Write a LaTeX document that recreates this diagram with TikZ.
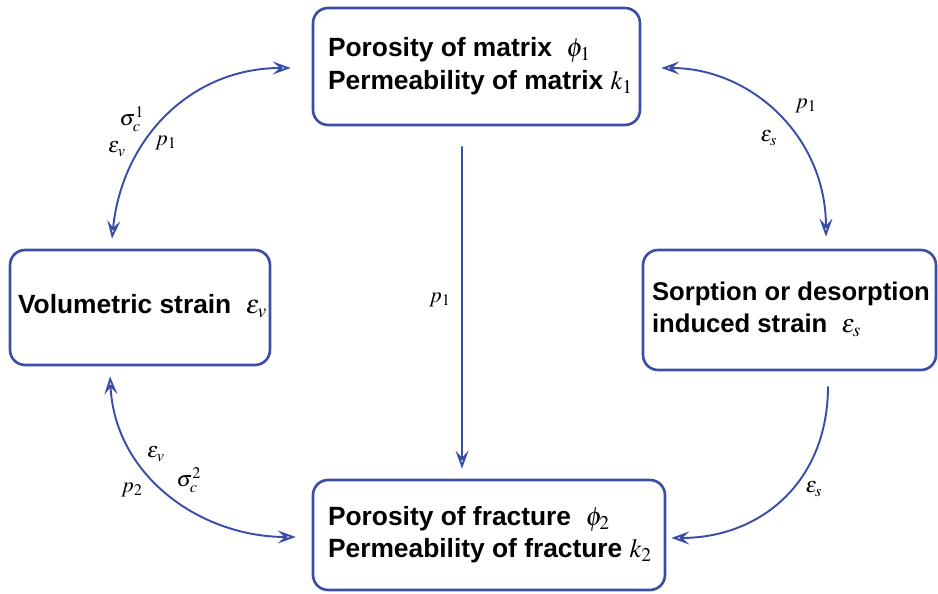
\documentclass[tikz,border=0pt]{standalone}
\usepackage{mathptmx}
\usepackage{fontspec}
\setmainfont{Liberation Sans}
\usetikzlibrary{arrows.meta,calc}
\definecolor{linkblue}{RGB}{58,78,168}
\newcommand{\boxlines}[2]{\makebox[#1][l]{\begin{tabular}{@{}l@{}}#2\end{tabular}}}
\tikzset{
  statebox/.style={draw=linkblue, line width=1.5pt, rounded corners=0.3cm,
    font=\fontsize{15}{18.5}\selectfont\bfseries, anchor=center, inner sep=0pt},
  link/.style={draw=linkblue, line width=1.1pt,
    arrows={Stealth[open,length=3.6mm,width=2.6mm,inset=1.4mm]-Stealth[open,length=3.6mm,width=2.6mm,inset=1.4mm]}},
  onelink/.style={draw=linkblue, line width=1.1pt,
    -{Stealth[open,length=3.6mm,width=2.6mm,inset=1.4mm]}},
  lbl/.style={font=\fontsize{12.5}{15}\selectfont, inner sep=0pt}
}
\begin{document}
\begin{tikzpicture}[x=0.02cm, y=0.02cm]
  \useasboundingbox (0,0) rectangle (938,594);

  % Matrix (top)
  \node[statebox, minimum width=6.54cm, minimum height=2.34cm] (mat) at (476.5,527.5)
    {\boxlines{5.94cm}{Porosity of matrix \ $\phi_1$\\Permeability of matrix $k_1$}};

  % Volumetric strain (left)
  \node[statebox, minimum width=5.2cm, minimum height=2.3cm] (vol) at (140,286.5)
    {\boxlines{4.88cm}{Volumetric strain \ $\varepsilon_v$}};

  % Sorption strain (right)
  \node[statebox, minimum width=5.86cm, minimum height=2.4cm,
    font=\fontsize{14.6}{18.5}\selectfont\bfseries] (sorp) at (789.5,284)
    {\boxlines{5.5cm}{Sorption or desorption\\induced strain \ $\varepsilon_s$}};

  % Fracture (bottom)
  \node[statebox, minimum width=7.04cm, minimum height=2.2cm] (frac) at (489,59)
    {\boxlines{6.44cm}{Porosity of fracture \ $\phi_2$\\Permeability of fracture $k_2$}};

  % Matrix pressure to fracture
  \draw[onelink] ([shift={(-0.29cm,-0.4cm)}]mat.south) -- ([shift={(-0.54cm,0.2cm)}]frac.north);
  \node[lbl] (pc) at (440,294) {$p_1$};

  % Matrix <-> volumetric strain
  \draw[link] ([shift={(-0.56cm,0.2cm)}]vol.north)
    .. controls +(0.2cm,2cm) and +(-2cm,0cm) .. ([shift={(-0.42cm,-0.03cm)}]mat.west);
  \node[lbl] (sa) at (132,475) {$\sigma_c^1$};
  \node[lbl] (ea) at (117,445) {$\varepsilon_v$};
  \node[lbl] (pa) at (166,451) {$p_1$};

  % Matrix <-> sorption strain
  \draw[link] ([shift={(0.4cm,-0.03cm)}]mat.east)
    .. controls +(1.8cm,0cm) and +(0cm,2cm) .. ([shift={(0.73cm,0.24cm)}]sorp.north);
  \node[lbl] (pb) at (806,488) {$p_1$};
  \node[lbl] (eb) at (769,456) {$\varepsilon_s$};

  % Volumetric strain <-> fracture
  \draw[link] ([shift={(-0.6cm,-0.2cm)}]vol.south)
    .. controls +(0.1cm,-2cm) and +(-1.9cm,0cm) .. ([shift={(-0.32cm,-0.04cm)}]frac.west);
  \node[lbl] (ed) at (156,140) {$\varepsilon_v$};
  \node[lbl] (sd) at (189,114) {$\sigma_c^2$};
  \node[lbl] (pd) at (132,104) {$p_2$};

  % Sorption strain to fracture
  \draw[onelink] ([shift={(0.77cm,-0.3cm)}]sorp.south)
    .. controls +(0cm,-1.9cm) and +(1.8cm,0cm) .. ([shift={(0.1cm,-0.06cm)}]frac.east);
  \node[lbl] (ee) at (814,105) {$\varepsilon_s$};
\end{tikzpicture}
\end{document}
